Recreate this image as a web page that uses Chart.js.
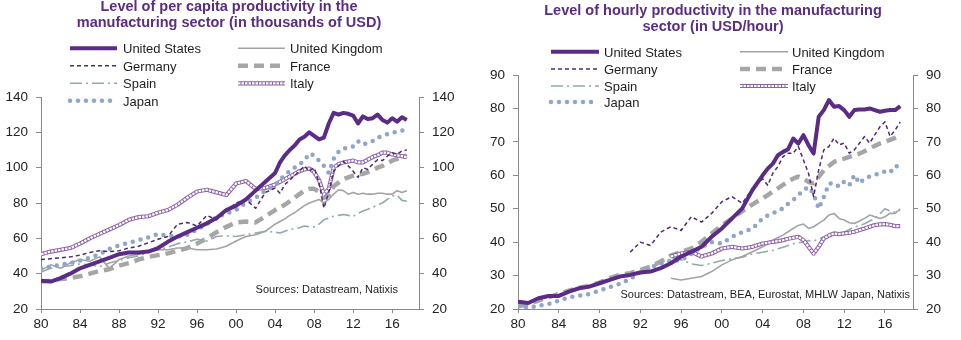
<!DOCTYPE html>
<html>
<head>
<meta charset="utf-8">
<script src="https://cdn.jsdelivr.net/npm/chart.js@4.4.0/dist/chart.umd.min.js"></script>
<style>
    body { margin: 0; background: #fff; }
    #wrap { position: relative; width: 961px; height: 340px; }
    canvas { position: absolute; top: 0; }
</style>
</head>
<body>
<div id="wrap">
    <canvas id="capitaChart" width="480" height="340" style="left:0"></canvas>
    <canvas id="hourlyChart" width="481" height="340" style="left:480px"></canvas>
</div>
<script>
// time axis: yearly until 2003, half-yearly after
var years = [
    1980, 1981, 1982, 1983, 1984, 1985, 1986, 1987, 1988, 1989,
    1990, 1991, 1992, 1993, 1994, 1995, 1996, 1997, 1998, 1999,
    2000, 2001, 2002, 2003,
    2004, 2004.5, 2005, 2005.5, 2006, 2006.5, 2007, 2007.5, 2008, 2008.5,
    2009, 2009.5, 2010, 2010.5, 2011, 2011.5, 2012, 2012.5, 2013, 2013.5,
    2014, 2014.5, 2015, 2015.5, 2016, 2016.5, 2017, 2017.5
];
var xTickYears = [1980, 1984, 1988, 1992, 1996, 2000, 2004, 2008, 2012, 2016];

// per capita productivity, thousands of USD
var capUS = [
    36, 35.5, 37.5, 40, 43, 45, 47, 49, 51, 52,
    52, 52.5, 54.5, 58, 61, 63.5, 66, 68.5, 71.5, 76,
    78.5, 82, 87, 92,
    97, 103, 107, 110, 112.5, 116, 117.5, 120, 118, 116,
    117, 125, 131, 130, 131, 130.5, 129.5, 125, 129, 127.5,
    128, 130, 127, 125.5, 128, 126, 128.5, 127
];
var capUK = [
    42, 45, 43, 46, 48, 47, 49.5, 43, 48, 50,
    51, 52.5, 53.5, 53.5, 54.5, 54.5, 53.5, 53.5, 54, 55.5,
    58.5, 61, 62, 64,
    68, 69.5, 71, 73, 74.5, 76.5, 78.5, 80, 81, 82,
    80, 82, 85, 87.5, 87, 85, 86, 85, 85.5, 85,
    85, 85.5, 85.5, 85, 85, 87, 86, 87
];
var capGermany = [
    48, 48.5, 49, 49.5, 50.5, 52, 53, 52.5, 53, 54.5,
    55.5, 57.5, 59.5, 61, 68, 69, 67, 73, 70.5, 75.5,
    80, 82, 77, 86,
    88.5, 85.5, 90.5, 93, 95.5, 98, 101, 98, 100, 91.5,
    77, 86, 98, 101, 103.5, 101, 98, 94.5, 100, 99,
    102, 104.5, 104, 106.5, 108.5, 107.5, 109.5, 110
];
var capFrance = [
    35.5, 36, 37, 37.5, 38.5, 40, 41.5, 42.5, 44.5, 46,
    48, 49.5, 50.5, 51.5, 53, 54.5, 57, 60, 63.5, 66.5,
    69, 69.5, 69, 72.5,
    76, 77.5, 79, 81, 83, 85, 87, 88, 88, 86.5,
    83, 84.5, 89.5, 91.5, 93.5, 94.5, 95.5, 96, 96.5, 97.5,
    98.5, 100, 101, 102.5, 104, 105, 106, 107
];
var capSpain = [
    41, 43, 44, 44.5, 45.5, 45, 44, 46, 47.5, 49,
    50, 52, 53.5, 55, 57, 58, 59.5, 58.5, 61, 61.5,
    61, 62, 63, 64,
    63.5, 63, 64, 65, 65.5, 66, 67, 66.5, 66.5, 68,
    70.5, 71.5, 72.5, 73, 73.5, 73, 72.5, 74, 75.5, 76.5,
    77.5, 79, 80, 82, 84, 84.5, 81.5, 81
];
var capItaly = [
    51, 52.5, 53.5, 54.5, 57, 60, 62.5, 65, 67.5, 70.5,
    72, 72.5, 74.5, 76, 79, 83, 86.5, 87.5, 86, 84.5,
    91, 92.5, 88, 88.5,
    90.5, 92, 93.5, 95, 96.5, 98, 99, 99.5, 97.5, 93,
    85, 88, 100, 102, 103, 103.5, 104, 103, 103, 104.5,
    106, 107, 108.5, 108.5, 107.5, 107, 106.5, 106
];
var capJapan = [
    43, 44, 45, 46, 47.5, 49, 51, 54, 56, 57.5,
    59, 60.5, 62.5, 61.5, 61, 62, 65, 68, 72, 74,
    76, 80, 83, 87,
    90, 93, 96, 98, 100, 102, 104, 108, 107, 104,
    101, 97, 105, 109, 111, 111, 112, 115, 113, 114,
    115, 117, 118, 119, 120, 120, 121, 121
];

// hourly productivity, USD/hour
var hourUS = [
    22.2, 21.8, 23.2, 23.9, 23.9, 25.2, 26.2, 26.7, 27.7, 28.7,
    29.7, 30.2, 30.9, 31.2, 32.2, 33.7, 35.7, 37.1, 38.6, 41.6,
    44.1, 47.1, 50.1, 55.6,
    60, 62, 63.5, 66, 67, 67.8, 71, 69.5, 72, 69,
    66.5, 77.5, 79.5, 82.5, 80.5, 80.7, 79.5, 77.5, 79.5, 79.7,
    79.7, 80, 79.5, 79, 79.3, 79.5, 79.5, 80.7
];
var hourUK = [
    null, null, null, null, null, null, null, null, null, null,
    null, null, null, null, null, 29.2, 28.7, 29.2, 29.7, 31.2,
    33.2, 34.7, 35.7, 37.1,
    38.6, 39.6, 40.6, 41.4, 42.1, 43.1, 44.1, 45, 45.4, 44.1,
    44.6, 45.6, 46.6, 48.1, 48.6, 47.1, 46.6, 45.8, 45.6, 46.3,
    47.1, 48.1, 47.6, 47.1, 47.6, 48.6, 48.6, 50
];
var hourGermany = [
    null, null, null, null, null, null, null, null, null, null,
    null, 37, 40, 39, 43, 44.6, 43.5, 47.6, 46, 48.6,
    52.1, 53.6, 51.6, 56.1,
    59, 57, 60.6, 62.6, 65.6, 66.6, 66.6, 68.6, 64.6, 60.6,
    53.6, 61.6, 67.6, 68.6, 71.1, 69.1, 69.6, 66.6, 67.6, 69.6,
    71.6, 69.6, 72.1, 74.5, 76, 71.6, 73.5, 76
];
var hourFrance = [
    20.7, 21.5, 22.5, 23.5, 24.5, 25.5, 26.4, 26.9, 27.9, 29.2,
    30.2, 30.7, 31.7, 32.7, 34.2, 36, 37.1, 38.1, 40.1, 42.6,
    45.1, 47.1, 49.3, 51.3,
    53.1, 54.1, 55.1, 56.1, 57.1, 58.1, 59, 59.6, 59, 58,
    57.6, 59.5, 61.5, 62.8, 64, 64.6, 65, 65.5, 66, 66.5,
    67.2, 68, 68.8, 69.5, 70, 70.6, 71.2, 71.8
];
var hourSpain = [
    null, null, null, null, null, null, null, null, null, null,
    null, null, null, null, null, 35.5, 34.7, 33.5, 33, 33.7,
    34.5, 35, 35.5, 36.5,
    37, 37.3, 37.5, 38, 38.5, 39, 39.5, 39.8, 40, 40.5,
    40.3, 41, 41.5, 41.8, 42, 42.5, 43, 43.8, 44.5, 45,
    45.5, 46.3, 47, 48.5, 50, 49.3, 49, 49.5
];
var hourItaly = [
    null, null, null, null, null, null, null, null, null, null,
    null, null, null, null, null, 35.7, 36.6, 37.1, 35.7, 36.6,
    38.1, 38.6, 38.1, 38.6,
    39.6, 39.8, 40.1, 40.3, 40.6, 41, 41.3, 41.6, 40.6, 38.6,
    36.6, 38.6, 41.1, 42, 42.6, 42.4, 42.6, 42.8, 43.1, 43.6,
    44.1, 44.6, 45.1, 45.3, 45.4, 45.2, 44.8, 44.8
];
var hourJapan = [
    20.8, 20.3, 21, 21.5, 22.5, 23.5, 24, 24.5, 25.5, 26.5,
    27.5, 29, 31, 32.5, 33.5, 34.5, 34.5, 36.5, 38.5, 40,
    39.6, 41.6, 43, 44,
    47.1, 48, 48.6, 49.5, 50.1, 51.5, 52.6, 54, 55.6, 56.5,
    54.5, 50, 53.5, 57.5, 57.6, 56.6, 58.1, 57, 60.1, 57.6,
    59.1, 59.6, 60.1, 60.6, 61.1, 60.8, 62.8, 62.6
];

var FONT = "'Liberation Sans', Arial, sans-serif";
var axisColor = "#8a8a8a";
var titleColor = "#5a2d82";

var styles = {
    "United States": { color: "#5b2c86", width: 4 },
    "United Kingdom": { color: "#a3a3a3", width: 1.6 },
    "Germany": { color: "#4f2a73", width: 1.5, dash: [4, 3] },
    "France": { color: "#a6a6a6", width: 4.5, dash: [10, 6] },
    "Spain": { color: "#93a9ae", width: 1.6, dash: [12, 4, 2, 4] },
    "Italy": { color: "#8d63a8", width: 4.2, inner: "#ffffff" },
    "Japan": { color: "#8fa5c9", width: 4.5, dash: [0, 8], cap: "round" }
};

// legend grid: [name, column, row]
var legendItems = [
    ["United States", 0, 0], ["United Kingdom", 1, 0],
    ["Germany", 0, 1], ["France", 1, 1],
    ["Spain", 0, 2], ["Italy", 1, 2],
    ["Japan", 0, 3]
];

function toPoints(values) {
    return years.map(function (yr, i) {
        return { x: yr, y: values[i] };
    });
}

function strokeSample(ctx, s, x1, x2, y) {
    ctx.save();
    ctx.beginPath();
    ctx.moveTo(x1, y);
    ctx.lineTo(x2, y);
    ctx.strokeStyle = s.color;
    ctx.lineWidth = s.width;
    ctx.lineCap = s.cap || "butt";
    ctx.setLineDash(s.dash || []);
    ctx.stroke();
    if (s.inner) {
        ctx.strokeStyle = s.inner;
        ctx.lineWidth = 2.2;
        ctx.setLineDash([2.5, 1]);
        ctx.stroke();
    }
    ctx.restore();
}

var decorPlugin = {
    id: "decor",
    afterDraw: function (chart, args, o) {
        var ctx = chart.ctx;
        ctx.save();
        ctx.fillStyle = titleColor;
        ctx.font = "bold 14.5px " + FONT;
        ctx.textAlign = "center";
        ctx.textBaseline = "alphabetic";
        o.title.forEach(function (t, i) {
            ctx.fillText(t, o.titleX, o.titleY[i]);
        });

        ctx.font = "13px " + FONT;
        ctx.textAlign = "left";
        ctx.fillStyle = "#1e1e1e";
        legendItems.forEach(function (item) {
            var col = o.legendCols[item[1]];
            var y = o.legendRows[item[2]];
            strokeSample(ctx, styles[item[0]], col[0], col[1], y);
            ctx.fillText(item[0], col[2], y + 5);
        });

        ctx.font = "11px " + FONT;
        ctx.textAlign = "right";
        ctx.fillText(o.source, o.sourceX, o.sourceY);
        ctx.restore();
    }
};

function buildChart(id, series, opts) {
    var drawOrder = ["United States", "Germany", "Japan", "Italy", "France", "United Kingdom", "Spain"];
    var datasets = [];
    drawOrder.forEach(function (name) {
        var s = styles[name];
        var pts = toPoints(series[name]);
        if (s.inner) {
            datasets.push({
                label: name + " inner",
                data: pts,
                borderColor: s.inner,
                borderWidth: 2.2,
                borderDash: [2.5, 1],
                pointRadius: 0,
                tension: 0,
                fill: false
            });
        }
        datasets.push({
            label: name,
            data: pts,
            borderColor: s.color,
            borderWidth: s.width,
            borderDash: s.dash || [],
            borderCapStyle: s.cap || "butt",
            borderJoinStyle: "round",
            pointRadius: 0,
            tension: 0,
            fill: false
        });
    });

    var yScale = function (pos, width) {
        return {
            type: "linear",
            position: pos,
            display: true,
            min: opts.yMin,
            max: opts.yMax,
            afterFit: function (axis) { axis.width = width; },
            grid: { drawOnChartArea: false, drawTicks: true, tickLength: 5, color: axisColor },
            border: { display: true, color: axisColor, width: 1 },
            ticks: {
                stepSize: opts.yStep,
                color: "#222",
                padding: 8,
                font: { family: FONT, size: 13.5 }
            }
        };
    };

    var ctx = document.getElementById(id).getContext("2d");
    return new Chart(ctx, {
        type: "line",
        data: { datasets: datasets },
        plugins: [decorPlugin],
        options: {
            responsive: false,
            animation: false,
            devicePixelRatio: 1,
            layout: { padding: { top: opts.top, left: 0, right: 0, bottom: 0 } },
            scales: {
                x: {
                    type: "linear",
                    min: 1980,
                    max: 2018.75,
                    afterBuildTicks: function (axis) {
                        axis.ticks = xTickYears.map(function (v) { return { value: v }; });
                    },
                    afterFit: function (axis) { axis.height = 31; },
                    grid: { drawOnChartArea: false, drawTicks: true, tickLength: 4, color: axisColor },
                    border: { display: true, color: axisColor, width: 1 },
                    ticks: {
                        autoSkip: false,
                        maxRotation: 0,
                        padding: 3,
                        color: "#222",
                        font: { family: FONT, size: 13.5 },
                        callback: function (v) { return String(v % 100).padStart(2, "0"); }
                    }
                },
                y: yScale("left", opts.leftW),
                y2: yScale("right", opts.rightW)
            },
            plugins: {
                legend: { display: false },
                tooltip: { enabled: false },
                decor: opts.decor
            }
        }
    });
}

buildChart("capitaChart", {
    "United States": capUS, "United Kingdom": capUK, "Germany": capGermany,
    "France": capFrance, "Spain": capSpain, "Italy": capItaly, "Japan": capJapan
}, {
    yMin: 20, yMax: 140, yStep: 20, top: 97, leftW: 41, rightW: 61,
    decor: {
        title: ["Level of per capita productivity in the", "manufacturing sector (in thousands of USD)"],
        titleX: 229, titleY: [11, 26.5],
        legendCols: [[70, 117, 123], [238, 285, 290]],
        legendRows: [48.3, 65.7, 83.3, 100.7],
        source: "Sources: Datastream, Natixis", sourceX: 398, sourceY: 293
    }
});

buildChart("hourlyChart", {
    "United States": hourUS, "United Kingdom": hourUK, "Germany": hourGermany,
    "France": hourFrance, "Spain": hourSpain, "Italy": hourItaly, "Japan": hourJapan
}, {
    yMin: 20, yMax: 90, yStep: 10, top: 75, leftW: 38, rightW: 48,
    decor: {
        title: ["Level of hourly productivity in the manufacturing", "sector (in USD/hour)"],
        titleX: 233, titleY: [15, 31],
        legendCols: [[71, 119, 124], [260, 308, 312]],
        legendRows: [51.7, 69, 86, 102],
        source: "Sources: Datastream, BEA, Eurostat, MHLW Japan, Natixis", sourceX: 430, sourceY: 298
    }
});
</script>
</body>
</html>
